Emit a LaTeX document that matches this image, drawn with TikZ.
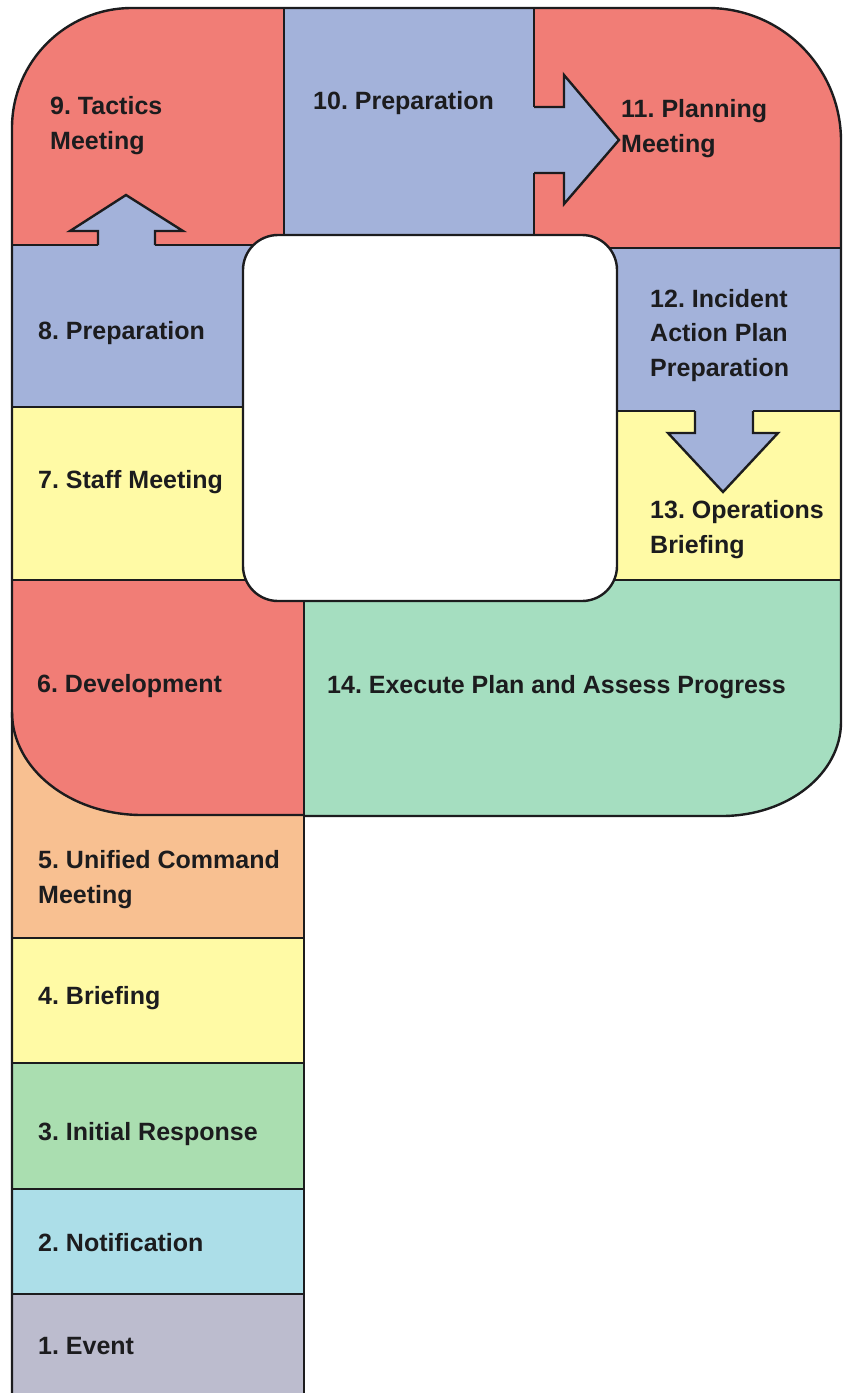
\documentclass[tikz,border=0pt]{standalone}
\usepackage{fontspec}
\setmainfont{Liberation Sans}
\frenchspacing
\definecolor{ink}{RGB}{28,28,30}
\definecolor{cred}{RGB}{241,125,118}
\definecolor{cblue}{RGB}{163,178,218}
\definecolor{cyellow}{RGB}{255,250,165}
\definecolor{cmint}{RGB}{165,222,192}
\definecolor{cgreen}{RGB}{170,222,176}
\definecolor{corange}{RGB}{248,192,145}
\definecolor{clblue}{RGB}{172,222,232}
\definecolor{cgray}{RGB}{188,188,206}
\begin{document}
\begin{tikzpicture}[x=1pt,y=-1pt,
  lbl/.style={font=\bfseries\fontsize{25}{34.5}\selectfont, text=ink, inner sep=0pt, anchor=base west, align=left},
  edge/.style={draw=ink, line width=2.4pt, line join=miter},
  arrowfill/.style={fill=cblue}]
\useasboundingbox (0,0) rectangle (843,1393);
\fill[white] (0,0) rectangle (843,1393);
% ---- region fills, clipped to the outer outline
\begin{scope}
\clip (12,1393) -- (12,128) .. controls (12,61.7) and (65.7,8) .. (132,8)
  -- (708,8) .. controls (781.5,8) and (841,67.5) .. (841,141)
  -- (841,722) .. controls (841,773.9) and (787.7,816) .. (722,816)
  -- (304,816) -- (304,1393) -- cycle;
\fill[cred]    (0,0)   rectangle (284,245);   % 9
\fill[cblue]   (284,0) rectangle (534,250);   % 10
\fill[cred]    (534,0) rectangle (843,248);   % 11
\fill[cblue]   (0,245) rectangle (290,407);   % 8
\fill[cblue]   (580,248) rectangle (843,411); % 12
\fill[cyellow] (0,407) rectangle (304,580);   % 7
\fill[cyellow] (580,411) rectangle (843,580); % 13
\fill[corange] (0,700) rectangle (304,938);   % 5
\fill[cred] (0,580) -- (304,580) -- (304,815) -- (142,815)
  .. controls (70.2,815) and (12,768.9) .. (12,712) -- (0,712) -- cycle; % 6
\fill[cmint]   (304,580) rectangle (843,820); % 14
\fill[cyellow] (0,938) rectangle (304,1063);  % 4
\fill[cgreen]  (0,1063) rectangle (304,1189); % 3
\fill[clblue]  (0,1189) rectangle (304,1294); % 2
\fill[cgray]   (0,1294) rectangle (304,1400); % 1
\end{scope}
% ---- arrows
\fill[arrowfill] (98,252) -- (98,231) -- (70,231) -- (126,195) -- (183,231) -- (155,231) -- (155,252) -- cycle;
\draw[edge] (98,245) -- (98,231) -- (70,231) -- (126,195) -- (183,231) -- (155,231) -- (155,245);
\fill[arrowfill] (528,107) -- (564,107) -- (564,75) -- (619,140) -- (564,204) -- (564,173) -- (528,173) -- cycle;
\draw[edge] (534,107) -- (564,107) -- (564,75) -- (619,140) -- (564,204) -- (564,173) -- (534,173);
\fill[arrowfill] (695,405) -- (695,433) -- (668,433) -- (723,492) -- (778,433) -- (753,433) -- (753,405) -- cycle;
\draw[edge] (695,411) -- (695,433) -- (668,433) -- (723,492) -- (778,433) -- (753,433) -- (753,411);
% ---- inner boundaries
\draw[edge] (12,245) -- (98,245);
\draw[edge] (155,245) -- (275,245);
\draw[edge] (284,8) -- (284,245);
\draw[edge] (534,8) -- (534,107);
\draw[edge] (534,173) -- (534,245);
\draw[edge] (590,248) -- (841,248);
\draw[edge] (12,407) -- (270,407);
\draw[edge] (590,411) -- (695,411);
\draw[edge] (753,411) -- (841,411);
\draw[edge] (12,580) -- (290,580);
\draw[edge] (590,580) -- (841,580);
\draw[edge] (304,590) -- (304,1393);
\draw[edge] (12,712) .. controls (12,768.9) and (70.2,815) .. (142,815) -- (304,815);
\draw[edge] (12,938) -- (304,938);
\draw[edge] (12,1063) -- (304,1063);
\draw[edge] (12,1189) -- (304,1189);
\draw[edge] (12,1294) -- (304,1294);
% ---- outer outline
\draw[edge] (12,1393) -- (12,128) .. controls (12,61.7) and (65.7,8) .. (132,8)
  -- (708,8) .. controls (781.5,8) and (841,67.5) .. (841,141)
  -- (841,722) .. controls (841,773.9) and (787.7,816) .. (722,816)
  -- (304,816);
% ---- central hole
\draw[edge, fill=white, rounded corners=35pt] (243,235) rectangle (617,601);
% ---- labels (anchor = baseline of the last line)
\node[lbl] (n9)  at (50,149)  {9. Tactics\\Meeting};
\node[lbl] (n10) at (313,109) {10. Preparation};
\node[lbl] (n11) at (621,152) {11. Planning\\Meeting};
\node[lbl] (n8)  at (38,339)  {8. Preparation};
\node[lbl] (n12) at (650,376) {12. Incident\\Action Plan\\Preparation};
\node[lbl] (n7)  at (38,488)  {7. Staff Meeting};
\node[lbl] (n13) at (650,553) {13. Operations\\Briefing};
\node[lbl] (n6)  at (37,692)  {6. Development};
\node[lbl] (n14) at (327,693) {14. Execute Plan and Assess Progress};
\node[lbl] (n5)  at (38,903)  {5. Unified Command\\Meeting};
\node[lbl] (n4)  at (38,1004) {4. Briefing};
\node[lbl] (n3)  at (38,1140) {3. Initial Response};
\node[lbl] (n2)  at (38,1251) {2. Notification};
\node[lbl] (n1)  at (38,1354) {1. Event};
\end{tikzpicture}
\end{document}
